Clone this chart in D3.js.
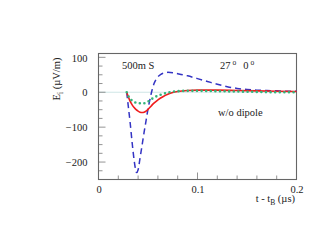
<!DOCTYPE html>
<html><head><meta charset="utf-8">
<script src="https://cdn.jsdelivr.net/npm/d3@7"></script>
<style>body{margin:0;background:#fff}svg{display:block}text{font-family:"Liberation Serif","Times New Roman","DejaVu Serif",serif !important}</style>
</head><body><svg id="c" width="334" height="250"></svg>
<script>
const xTicks = [0, 0.1, 0.2];
const yTicks = [-200, -100, 0, 100];
const blueT = [0.0285,0.030,0.032,0.034,0.036,0.0375,0.0385,0.040,0.042,0.044,0.046,0.048,0.050,0.052,0.054,0.056,0.058,0.060,0.063,0.066,0.070,0.075,0.080,0.090,0.100,0.110,0.120,0.130,0.140,0.150,0.160,0.170,0.180,0.190,0.200];
const blueV = [0,-38,-88,-145,-195,-222,-230,-222,-188,-152,-116,-82,-48,-20,5,24,36,44,51,55,57,56,53,47,39,31,23,16,11,8,6,5,4,3,3];
const redT = [0.0285,0.030,0.032,0.034,0.036,0.038,0.040,0.042,0.044,0.046,0.048,0.050,0.053,0.056,0.060,0.065,0.070,0.075,0.080,0.090,0.100,0.120,0.140,0.160,0.180,0.200];
const redV = [0,-12,-26,-36,-44,-50,-54,-57,-58,-57,-54,-49,-40,-31,-22,-13,-6,-1,2,5,6,6,5,4,3,2];
const greenT = [0.0285,0.030,0.032,0.034,0.036,0.040,0.045,0.050,0.053,0.056,0.060,0.065,0.072,0.080,0.090,0.100,0.120,0.140,0.160,0.180,0.200];
const greenV = [0,-10,-19,-24,-28,-31,-32,-27,-21,-15,-10,-5,0,3,4,4,3,2,1,0,0];

const FONT = "Liberation Serif, Times New Roman, DejaVu Serif, serif";
const svg = d3.select("#c").attr("font-family", FONT);
const L = 98.5, R = 296.5, T = 53.5, B = 179.5;
const x = d3.scaleLinear().domain([0, 0.2]).range([L, R]);
const y = d3.scaleLinear().domain([-250, 111]).range([B, T]);

// zero line
svg.append("line").attr("x1", L).attr("x2", R).attr("y1", y(0)).attr("y2", y(0))
  .attr("stroke", "#cfe6e6").attr("stroke-width", 1);

// minor/major ticks
const yMinor = d3.range(-250, 111, 25);
yMinor.forEach(v => {
  const major = v % 100 === 0;
  svg.append("line").attr("x1", L).attr("x2", L + (major ? 7 : 4))
    .attr("y1", y(v)).attr("y2", y(v)).attr("stroke", "#777").attr("stroke-width", 0.8);
});
const xMinor = d3.range(0, 0.2001, 0.02);
xMinor.forEach((v, i) => {
  const major = i % 5 === 0;
  svg.append("line").attr("x1", x(v)).attr("x2", x(v))
    .attr("y1", B).attr("y2", B - (major ? 7 : 4)).attr("stroke", "#777").attr("stroke-width", 0.8);
});

// tick labels via d3 axes (tick marks hidden)
const ya = svg.append("g").attr("transform", `translate(${L - 11},0)`)
  .call(d3.axisLeft(y).tickValues(yTicks).tickSize(0).tickFormat(d3.format("d")));
ya.attr("font-family", FONT).attr("font-size", 10.5);
ya.select(".domain").remove();
ya.selectAll("text").attr("fill", "#222").attr("x", 0).attr("dy", "0.35em");

const xa = svg.append("g").attr("transform", `translate(0,${B + 3})`)
  .call(d3.axisBottom(x).tickValues(xTicks).tickSize(0).tickFormat(d => d === 0 ? "0" : String(d)));
xa.attr("font-family", FONT).attr("font-size", 10.5);
xa.select(".domain").remove();
xa.selectAll("text").attr("fill", "#222");

// frame
svg.append("rect").attr("x", L).attr("y", T).attr("width", R - L).attr("height", B - T)
  .attr("fill", "none").attr("stroke", "#666").attr("stroke-width", 1.1);

const line = d3.line().x(d => x(d[0])).y(d => y(d[1])).curve(d3.curveMonotoneX);
const zip = (a, b) => a.map((t, i) => [t, b[i]]);

svg.append("path").attr("d", line(zip(blueT, blueV))).attr("fill", "none")
  .attr("stroke", "#3434c4").attr("stroke-width", 1.5).attr("stroke-dasharray", "6,4");
svg.append("path").attr("d", line(zip(redT, redV))).attr("fill", "none")
  .attr("stroke", "#f01c1c").attr("stroke-width", 1.6);
svg.append("path").attr("d", line(zip(greenT, greenV))).attr("fill", "none")
  .attr("stroke", "#35b47a").attr("stroke-width", 2.6).attr("stroke-linecap", "round").attr("stroke-dasharray", "0,4.6");

// annotations
const txt = (s, xx, yy, anchor) => svg.append("text").attr("x", xx).attr("y", yy)
  .attr("font-family", FONT).attr("font-size", 10.5).attr("fill", "#222").attr("text-anchor", anchor || "start").text(s);
txt("500m S", 122, 68.5);
const t2 = svg.append("text").attr("x", 220).attr("y", 68.5).attr("font-family", FONT).attr("font-size", 10.5).attr("fill", "#222");
t2.append("tspan").text("27");
t2.append("tspan").attr("font-size", 7.5).attr("dy", -4).attr("dx", 2).text("o");
t2.append("tspan").attr("dy", 4).attr("dx", 7).text("0");
t2.append("tspan").attr("font-size", 7.5).attr("dy", -4).attr("dx", 2).text("o");
txt("w/o dipole", 218, 116);

// x axis title
const xt = svg.append("text").attr("x", 295).attr("y", 202).attr("font-family", FONT).attr("font-size", 10.5)
  .attr("fill", "#222").attr("text-anchor", "end");
xt.append("tspan").text("t - t");
xt.append("tspan").attr("font-size", 7.5).attr("dy", 2.5).text("B");
xt.append("tspan").attr("dy", -2.5).text(" (\u00b5s)");

// y axis title
const yt = svg.append("text").attr("transform", "translate(60,79) rotate(-90)").attr("font-family", FONT)
  .attr("font-size", 10.5).attr("fill", "#222").attr("text-anchor", "middle");
yt.append("tspan").text("E");
yt.append("tspan").attr("font-size", 7.5).attr("dy", 2.5).text("i");
yt.append("tspan").attr("dy", -2.5).text("  (\u00b5V/m)");
</script></body></html>
